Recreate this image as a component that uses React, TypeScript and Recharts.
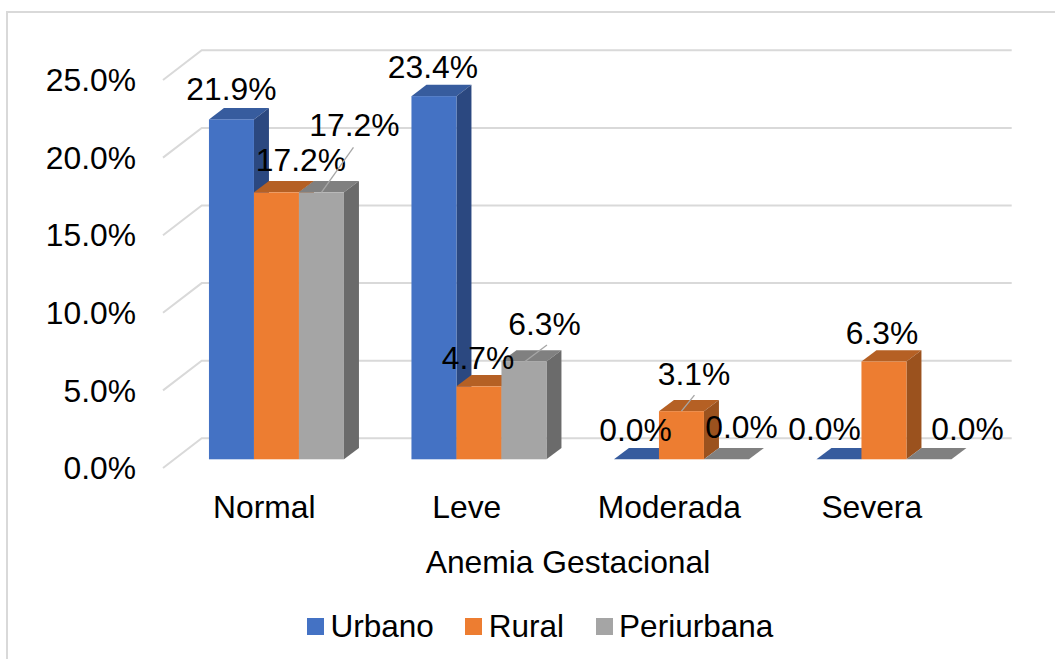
import React from 'react';
import { BarChart, Bar, XAxis, YAxis, CartesianGrid, Legend, LabelList } from 'recharts';

const categories = ['Normal', 'Leve', 'Moderada', 'Severa'];
const urbano = [21.9, 23.4, 0, 0];
const rural = [17.2, 4.7, 3.1, 6.3];
const periurbana = [17.2, 6.3, 0, 0];
const yTicks = [0, 5, 10, 15, 20, 25];

const rows = categories.map((name, i) => ({ name, Urbano: urbano[i], Rural: rural[i], Periurbana: periurbana[i] }));

const FONT = '"Liberation Sans", Arial, sans-serif';
const FS = 31.8;
const LEGEND_FS = 31.5;
const GRID = '#D9D9D9';

// depth of the fake 3D
const OX = 12.2; // bars sit this far into the floor
const OY = -8.7;
const DX = 15;
const DY = -11.3;
const WALL_X = 38.7;
const WALL_Y = -29.7;

const seriesStyle: Record<string, { front: string; top: string; side: string }> = {
  Urbano: { front: '#4472C4', top: '#375C9E', side: '#2B4880' },
  Rural: { front: '#ED7D31', top: '#B56024', side: '#9B521E' },
  Periurbana: { front: '#A5A5A5', top: '#808080', side: '#6B6B6B' },
};

const labelNudge: Record<string, [number, number][]> = {
  Urbano: [[0, -30], [-1, -29], [-1, -29.5], [-14.5, -30]],
  Rural: [[24.5, -32], [-1, -28.5], [12.5, -37], [-2, -29]],
  Periurbana: [[33, -67], [20.5, -37.5], [15, -32.5], [38.5, -30]],
};

const leaders: Record<string, Record<number, [number, number, number, number]>> = {
  Urbano: {},
  Rural: { 2: [0, 0, 13, -16] },
  Periurbana: { 0: [0, 0, 32, -45], 1: [1, 0, 23, -16.5] },
};

const barShape = (series: string) => (props: any) => {
  const { x, y, width, height } = props;
  const s = seriesStyle[series];
  const l = x + OX;
  const r = l + width;
  const t = y + OY;
  const b = t + height;
  return (
    <g>
      <polygon points={`${l},${t} ${l + DX},${t + DY} ${r + DX},${t + DY} ${r},${t}`} fill={s.top} />
      <polygon points={`${r},${t} ${r + DX},${t + DY} ${r + DX},${b + DY} ${r},${b}`} fill={s.side} />
      <rect x={l} y={t} width={width} height={height} fill={s.front} />
    </g>
  );
};

const dataLabel = (series: string) => (props: any) => {
  const { x, y, width, value, index } = props;
  const cx = x + width / 2 + OX;
  const top = y + OY;
  const [nx, ny] = labelNudge[series][index];
  const lead = leaders[series][index];
  return (
    <g>
      {lead && (
        <line x1={cx + lead[0]} y1={top + lead[1]} x2={cx + lead[2]} y2={top + lead[3]} stroke="#A6A6A6" strokeWidth={1.3} />
      )}
      <text x={cx + nx} y={top + ny} textAnchor="middle" dominantBaseline="central" fontFamily={FONT} fontSize={FS} fill="#000">
        {`${Number(value).toFixed(1)}%`}
      </text>
    </g>
  );
};

const wallLine = (props: any) => {
  const { x1, x2, y1 } = props;
  return (
    <polyline
      key={props.key ?? y1}
      points={`${x1},${y1} ${x1 + WALL_X},${y1 + WALL_Y} ${x2 + WALL_X},${y1 + WALL_Y}`}
      fill="none"
      stroke={GRID}
      strokeWidth={2}
    />
  );
};

const LegendRow = ({ payload }: any) => (
  <div style={{ display: 'flex', alignItems: 'center', height: 65, paddingTop: 1, paddingLeft: 307, fontFamily: FONT, fontSize: LEGEND_FS, color: '#000' }}>
    {(payload || []).map((p: any) => (
      <div key={p.value} style={{ display: 'flex', alignItems: 'center', marginRight: 31.5 }}>
        <span style={{ width: 17, height: 17, background: p.color, marginRight: 6.5, display: 'inline-block' }} />
        <span>{p.value}</span>
      </div>
    ))}
  </div>
);

export default function App() {
  return (
    <div style={{ position: 'fixed', left: 0, top: 0, width: 1055, height: 659, overflow: 'hidden', background: '#fff' }}>
      <div style={{ position: 'absolute', left: 6, top: 11, width: 1100, height: 700, border: '2px solid #D9D9D9', boxSizing: 'border-box' }} />
      <div style={{ position: 'absolute', left: 0, top: 0 }}>
        <BarChart
          width={1055}
          height={659}
          data={rows}
          margin={{ top: 80, right: 82, bottom: 0, left: 0 }}
          barCategoryGap="16.67%"
          barGap={0}
        >
          <CartesianGrid vertical={false} horizontal={wallLine} />
          <XAxis
            dataKey="name"
            interval={0}
            axisLine={false}
            tickLine={false}
            tickSize={27}
            tickMargin={0}
            height={125}
            tick={{ fontFamily: FONT, fontSize: FS, fill: '#000' }}
            label={{ value: 'Anemia Gestacional', position: 'insideBottom', offset: 20, fontFamily: FONT, fontSize: FS, fill: '#000' }}
          />
          <YAxis
            domain={[0, 25]}
            ticks={yTicks}
            width={163}
            axisLine={false}
            tickLine={false}
            tickSize={27}
            tickMargin={0}
            tickFormatter={(v: number) => `${v.toFixed(1)}%`}
            tick={{ fontFamily: FONT, fontSize: FS, fill: '#000' }}
          />
          <Legend verticalAlign="bottom" itemSorter={null} content={<LegendRow />} />
          {Object.keys(seriesStyle).map((k) => (
            <Bar key={k} dataKey={k} fill={seriesStyle[k].front} shape={barShape(k)} isAnimationActive={false}>
              <LabelList dataKey={k} content={dataLabel(k)} />
            </Bar>
          ))}
        </BarChart>
      </div>
    </div>
  );
}
